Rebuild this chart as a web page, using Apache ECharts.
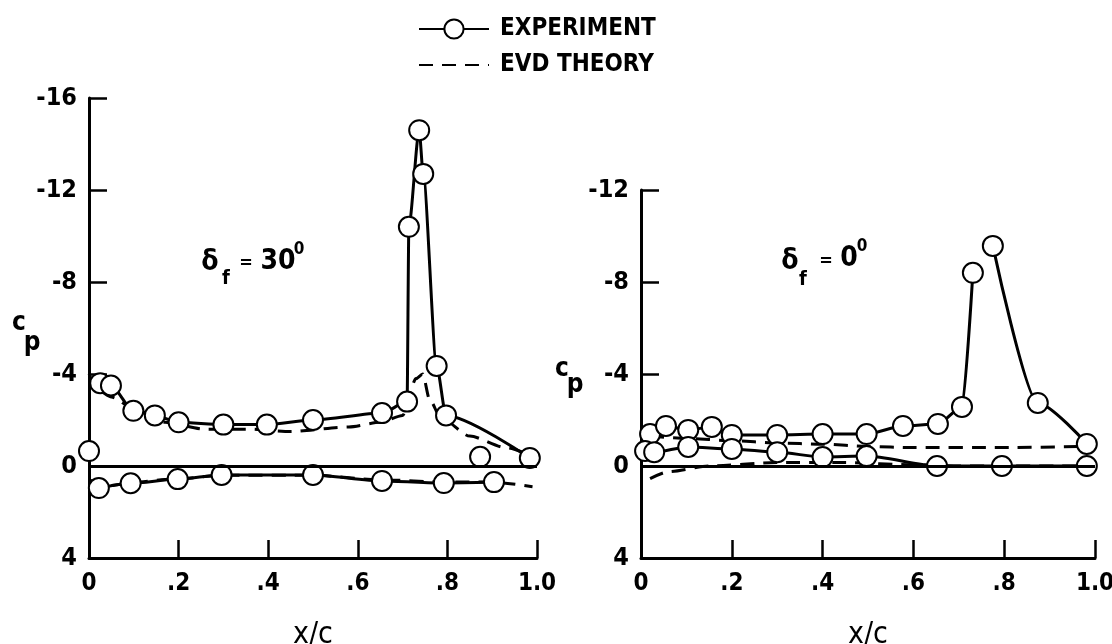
<!DOCTYPE html>
<html>
<head>
<meta charset="utf-8">
<script src="https://cdn.jsdelivr.net/npm/echarts@6/dist/echarts.min.js"></script>
<style>
html, body { margin: 0; background: #fff; }
#main { width: 1112px; height: 644px; }
</style>
</head>
<body>
<div id="main"></div>
<script>
var FONT = '"Liberation Sans Narrow", "DejaVu Sans Condensed", "Liberation Sans", sans-serif';

// delta_f = 30 deg (left panel)
var x30Upper = [0.025, 0.049, 0.099, 0.147, 0.2, 0.3, 0.397, 0.5, 0.654, 0.71, 0.714, 0.737, 0.746, 0.776, 0.797, 0.984];
var cp30Upper = [-3.6, -3.5, -2.4, -2.2, -1.9, -1.8, -1.8, -2.0, -2.3, -2.8, -10.4, -14.6, -12.7, -4.35, -2.2, -0.35];
var x30Lower = [0.022, 0.093, 0.198, 0.296, 0.5, 0.654, 0.792, 0.904];
var cp30Lower = [0.96, 0.75, 0.57, 0.39, 0.39, 0.65, 0.74, 0.7];
var x30Single = [0, 0.873];
var cp30Single = [-0.65, -0.4];
var x30TheoryUp = [0, 0.02, 0.05, 0.1, 0.17, 0.26, 0.36, 0.45, 0.58, 0.65, 0.7, 0.73, 0.745, 0.76, 0.785, 0.85, 0.93, 1.0];
var cp30TheoryUp = [-4.0, -3.3, -3.0, -2.5, -1.9, -1.6, -1.6, -1.5, -1.7, -1.9, -2.2, -3.8, -4.0, -2.9, -2.1, -1.3, -0.8, -0.35];
var x30TheoryLo = [0, 0.05, 0.1, 0.2, 0.3, 0.5, 0.65, 0.8, 0.9, 0.99];
var cp30TheoryLo = [0.6, 0.85, 0.7, 0.55, 0.4, 0.4, 0.6, 0.7, 0.7, 0.9];

// delta_f = 0 deg (right panel)
var x0UpperFront = [0.02, 0.055, 0.104, 0.156, 0.2, 0.3, 0.4, 0.497, 0.577, 0.654, 0.707, 0.731];
var cp0UpperFront = [-1.39, -1.74, -1.57, -1.7, -1.35, -1.35, -1.39, -1.39, -1.74, -1.83, -2.57, -8.4];
var x0UpperAft = [0.775, 0.874, 0.982];
var cp0UpperAft = [-9.57, -2.74, -0.96];
var x0Lower = [0.009, 0.029, 0.104, 0.2, 0.3, 0.4, 0.497, 0.652, 0.795, 0.982];
var cp0Lower = [-0.65, -0.6, -0.83, -0.74, -0.6, -0.39, -0.43, 0.0, 0.0, 0.0];
var x0TheoryUp = [0.02, 0.1, 0.2, 0.3, 0.4, 0.5, 0.6, 0.8, 0.98];
var cp0TheoryUp = [-1.3, -1.2, -1.1, -1.0, -0.95, -0.85, -0.8, -0.8, -0.85];
var x0TheoryLo = [0.02, 0.06, 0.15, 0.3, 0.45, 0.6, 0.7, 1.0];
var cp0TheoryLo = [0.55, 0.25, 0.0, -0.15, -0.15, -0.05, 0.0, 0.0];

var xTicks = ['0', '.2', '.4', '.6', '.8', '1.0'];

function pairs(xs, ys) {
    var out = [];
    for (var i = 0; i < xs.length; i++) out.push([xs[i], ys[i]]);
    return out;
}

var chart = echarts.init(document.getElementById('main'));

function expLine(idx, xs, ys, extra) {
    var s = {
        name: 'EXPERIMENT', type: 'line', xAxisIndex: idx, yAxisIndex: idx,
        data: pairs(xs, ys), z: 3,
        symbol: 'circle', symbolSize: 20, showAllSymbol: true,
        itemStyle: { color: '#fff', borderColor: '#000', borderWidth: 2, opacity: 1 },
        lineStyle: { color: '#000', width: 3 },
        smooth: 0.25, smoothMonotone: 'x',
        emphasis: { disabled: true }
    };
    for (var k in (extra || {})) s[k] = extra[k];
    return s;
}

function theoryLine(idx, xs, ys) {
    return {
        name: 'EVD THEORY', type: 'line', xAxisIndex: idx, yAxisIndex: idx,
        data: pairs(xs, ys), z: 2, symbol: 'none',
        smooth: 0.25, smoothMonotone: 'x',
        itemStyle: { color: 'rgba(0,0,0,0)' },
        lineStyle: { color: '#000', width: 3, type: [14, 9] },
        emphasis: { disabled: true }
    };
}

var zeroLine = {
    silent: true, symbol: 'none', label: { show: false },
    lineStyle: { color: '#000', width: 3, type: 'solid' },
    data: [{ yAxis: 0 }]
};

function xAxis(idx) {
    return {
        gridIndex: idx, type: 'value', min: 0, max: 1, interval: 0.2,
        name: 'x/c', nameLocation: 'middle', nameGap: 62,
        nameTextStyle: { fontFamily: FONT, fontSize: 30, color: '#000' },
        axisLine: { onZero: false, lineStyle: { color: '#000', width: 3 } },
        axisTick: { inside: true, length: 18, lineStyle: { color: '#000', width: 2.5 } },
        axisLabel: {
            margin: 14, fontFamily: FONT, fontSize: 24, fontWeight: 'bold', color: '#000',
            formatter: function (v) { return xTicks[Math.round(v * 5)]; }
        },
        splitLine: { show: false }
    };
}

function yAxis(idx, min) {
    return {
        gridIndex: idx, type: 'value', inverse: true, min: min, max: 4, interval: 4,
        axisLine: { onZero: false, lineStyle: { color: '#000', width: 3 } },
        axisTick: { inside: true, length: 18, lineStyle: { color: '#000', width: 2.5 } },
        axisLabel: { margin: 12, fontFamily: FONT, fontSize: 25, fontWeight: 'bold', color: '#000' },
        splitLine: { show: false }
    };
}

function txt(x, y, t, size) {
    return {
        type: 'text', x: x, y: y, silent: true,
        style: { text: t, fill: '#000', font: 'bold ' + size + 'px ' + FONT,
                 textAlign: 'center', textVerticalAlign: 'middle' }
    };
}

option = {
    animation: false,
    backgroundColor: '#fff',
    legend: {
        orient: 'vertical', left: 413, top: 12, itemGap: 12,
        itemWidth: 70, itemHeight: 24,
        textStyle: { fontFamily: FONT, fontSize: 24, fontWeight: 'bold', color: '#000', padding: [0, 0, 0, 6] },
        data: ['EXPERIMENT', 'EVD THEORY']
    },
    grid: [
        { left: 89, top: 98, width: 448, height: 460, outerBoundsMode: 'none' },
        { left: 641, top: 190, width: 454, height: 368, outerBoundsMode: 'none' }
    ],
    xAxis: [xAxis(0), xAxis(1)],
    yAxis: [yAxis(0, -16), yAxis(1, -12)],
    graphic: [
        txt(19, 323, 'c', 26), txt(32, 343, 'p', 26),
        txt(562, 369, 'c', 26), txt(575, 385, 'p', 26),
        txt(210, 263, 'δ', 28), txt(226, 279, 'f', 20), txt(246, 263, '=', 18),
        txt(278, 262, '30', 28), txt(299, 250, '0', 17),
        txt(790, 262, 'δ', 28), txt(803, 280, 'f', 20), txt(826, 261, '=', 18),
        txt(849, 259, '0', 28), txt(862, 247, '0', 17)
    ],
    series: [
        expLine(0, x30Upper, cp30Upper, { markLine: zeroLine }),
        expLine(0, x30Lower, cp30Lower),
        expLine(0, x30Single, cp30Single, { type: 'scatter' }),
        theoryLine(0, x30TheoryUp, cp30TheoryUp),
        theoryLine(0, x30TheoryLo, cp30TheoryLo),
        expLine(1, x0UpperFront, cp0UpperFront),
        expLine(1, x0UpperAft, cp0UpperAft),
        expLine(1, x0Lower, cp0Lower, { markLine: zeroLine }),
        theoryLine(1, x0TheoryUp, cp0TheoryUp),
        theoryLine(1, x0TheoryLo, cp0TheoryLo)
    ]
};

chart.setOption(option);
</script>
</body>
</html>
